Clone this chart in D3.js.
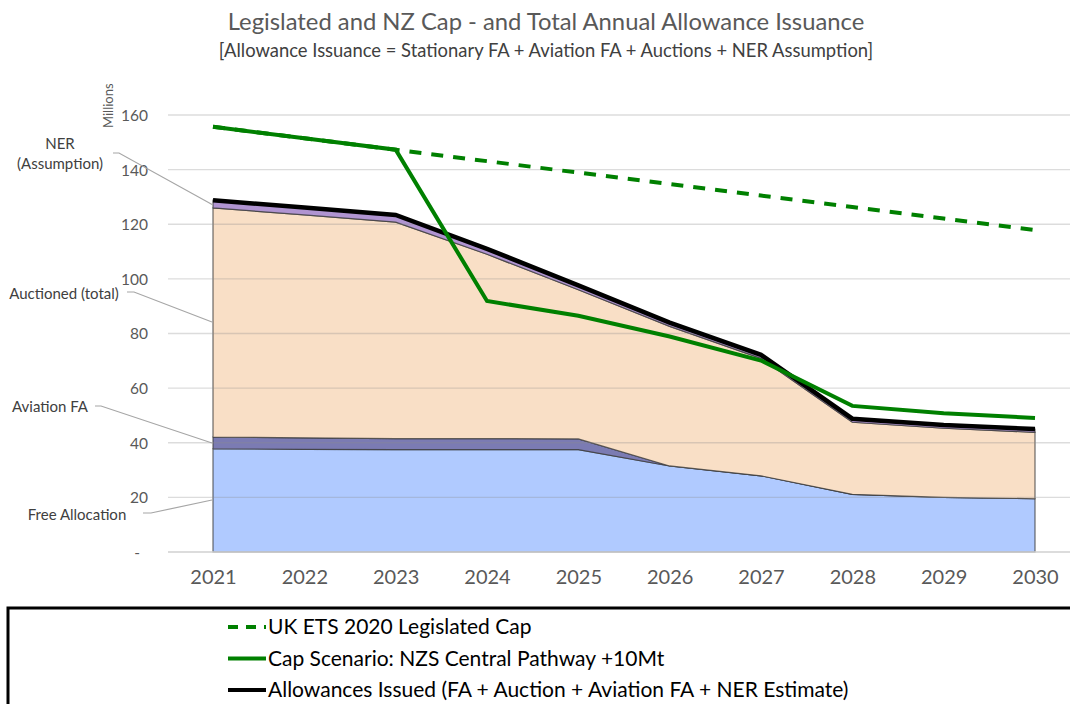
<!DOCTYPE html>
<html><head><meta charset="utf-8">
<script src="https://cdn.jsdelivr.net/npm/d3@7"></script>
<style>body{margin:0;background:#fff}svg{display:block}text{font-family:Lato,"Open Sans",sans-serif}</style>
</head><body>
<svg id="c" width="1070" height="704"></svg>
<script>
const years = [2021,2022,2023,2024,2025,2026,2027,2028,2029,2030];
const freeAllocation = [37.8,37.6,37.5,37.5,37.5,31.5,27.9,21.1,20.0,19.5];
const aviationFA    = [4.3,4.2,4.0,4.0,3.9,0,0,0,0,0];
const auctioned     = [83.9,81.6,79.3,67.5,54.6,51.1,43.0,26.4,25.3,24.3];
const nerAssumption = [2.8,2.7,2.6,2.0,1.6,1.4,1.3,1.3,1.2,1.2];
const allowancesIssued = [128.8,126.1,123.4,111.0,97.6,84.0,72.2,48.8,46.5,45.0];
const legislatedCap = [155.7,151.5,147.3,143.1,138.9,134.7,130.5,126.3,122.1,117.9];
const nzsCap        = [155.7,151.5,147.3,91.9,86.5,78.9,70.1,53.5,50.8,49.1];
const yTicks = [0,20,40,60,80,100,120,140,160];
const seriesKeys = ["Free Allocation","Aviation FA","Auctioned (total)","NER (Assumption)"];
const seriesColors = ["#b0caff","#7b7bb3","#f9dfc6","#b094d1"];
const legendLabels = ["UK ETS 2020 Legislated Cap","Cap Scenario: NZS Central Pathway +10Mt","Allowances Issued (FA + Auction + Aviation FA + NER Estimate)"];

const svg = d3.select("#c");
const x = d3.scalePoint().domain(years).range([213,1035]);
const y = d3.scaleLinear().domain([0,160]).range([552,115]);

const table = years.map((yr,i)=>({year:yr,
  "Free Allocation":freeAllocation[i],"Aviation FA":aviationFA[i],
  "Auctioned (total)":auctioned[i],"NER (Assumption)":nerAssumption[i]}));
const stacked = d3.stack().keys(seriesKeys)(table);
const area = d3.area().x(d=>x(d.data.year)).y0(d=>y(d[0])).y1(d=>y(d[1]));

// titles
svg.append("text").attr("x",546).attr("y",30).attr("text-anchor","middle")
  .attr("font-size",23.8).attr("fill","#595959").text("Legislated and NZ Cap - and Total Annual Allowance Issuance");
svg.append("text").attr("x",546).attr("y",57).attr("text-anchor","middle")
  .attr("font-size",18.4).attr("fill","#404040").text("[Allowance Issuance = Stationary FA + Aviation FA + Auctions + NER Assumption]");

// areas
svg.append("g").selectAll("path").data(stacked).join("path")
  .attr("d",area).attr("fill",(d,i)=>seriesColors[i])
  .attr("stroke","#3a3a3a").attr("stroke-opacity",0.75).attr("stroke-width",1.2);

// gridlines
svg.append("g").selectAll("line").data(yTicks).join("line")
  .attr("x1",168).attr("x2",1070).attr("y1",d=>y(d)).attr("y2",d=>y(d))
  .attr("stroke",d=>d===0?"#d0d0d0":"#8c8c8c").attr("stroke-opacity",d=>d===0?1:0.3).attr("stroke-width",1.3);

// y axis labels
const yAxis = d3.axisLeft(y).tickValues(yTicks).tickSize(0).tickPadding(0)
  .tickFormat(d=>d===0?"-":d);
const ya = svg.append("g").attr("transform","translate(148,0)").call(yAxis);
ya.select(".domain").remove();
ya.selectAll("text").attr("font-size",15.5).attr("fill","#595959").style("font-family","Lato")
  .attr("dy","0.35em").attr("dx",d=>d===0?"-8":"0");
svg.append("text").attr("transform","translate(113,128) rotate(-90)").attr("font-size",13)
  .attr("fill","#595959").text("Millions");

// x axis labels
const xAxis = d3.axisBottom(x).tickSize(0).tickPadding(0);
const xa = svg.append("g").attr("transform","translate(0,570)").call(xAxis);
xa.select(".domain").remove();
xa.selectAll("text").attr("font-size",20).attr("fill","#595959").style("font-family","Lato").attr("dy","0.71em");

// lines
const line = arr => d3.line().x((d,i)=>x(years[i])).y(d=>y(d))(arr);
svg.append("path").attr("d",line(allowancesIssued)).attr("fill","none").attr("stroke","#000").attr("stroke-width",4.5);
svg.append("path").attr("d",line(legislatedCap)).attr("fill","none").attr("stroke","#008000").attr("stroke-width",4).attr("stroke-dasharray","12,10");
svg.append("path").attr("d",line(nzsCap)).attr("fill","none").attr("stroke","#008000").attr("stroke-width",4);

// annotations
const ann = [
  {lines:["NER","(Assumption)"], tx:60, ty:[149,169], anchor:"middle", pts:[[113,153],[119,153],[213,205]]},
  {lines:["Auctioned (total)"], tx:64, ty:[299], anchor:"middle", pts:[[127,292],[134,292],[212,322]]},
  {lines:["Aviation FA"], tx:50, ty:[412], anchor:"middle", pts:[[95,406],[101,406],[212,443]]},
  {lines:["Free Allocation"], tx:77, ty:[520], anchor:"middle", pts:[[143,513],[151,513],[212,500]]}
];
ann.forEach(a=>{
  a.lines.forEach((t,i)=>svg.append("text").attr("x",a.tx).attr("y",a.ty[i]).attr("text-anchor",a.anchor)
    .attr("font-size",15).attr("fill","#404040").text(t));
  svg.append("path").attr("d",d3.line()(a.pts)).attr("fill","none").attr("stroke","#a6a6a6").attr("stroke-width",1.2);
});

// legend
svg.append("rect").attr("x",8).attr("y",608).attr("width",1080).attr("height",120)
  .attr("fill","#fff").attr("stroke","#000").attr("stroke-width",3);
const lg = svg.append("g").selectAll("g").data(legendLabels).join("g")
  .attr("transform",(d,i)=>`translate(0,${627+i*31.5})`);
lg.append("line").attr("x1",228).attr("x2",266).attr("y1",0).attr("y2",0)
  .attr("stroke",(d,i)=>i===2?"#000":"#008000").attr("stroke-width",4)
  .attr("stroke-dasharray",(d,i)=>i===0?"10,8":null);
lg.append("text").attr("x",268).attr("y",0).attr("dy","0.35em").attr("font-size",21)
  .attr("fill","#000").text(d=>d);
</script>
</body></html>
